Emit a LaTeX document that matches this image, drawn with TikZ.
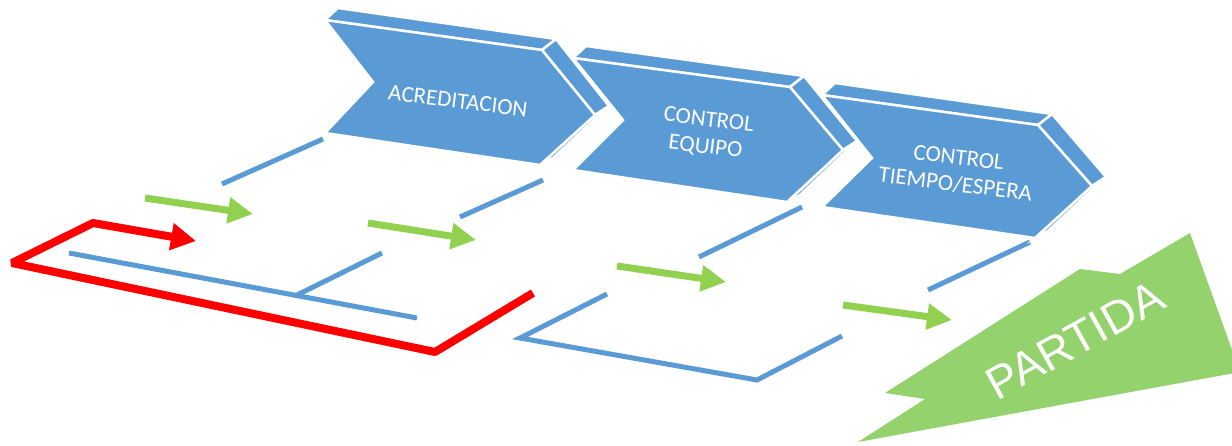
\documentclass[tikz,border=0pt]{standalone}
\usepackage{fontspec}
\setmainfont{Carlito}
\newfontfamily\arialf{Liberation Sans}
\usetikzlibrary{arrows.meta,calc}
\definecolor{cblue}{HTML}{5B9BD5}
\definecolor{cgreen}{HTML}{92D050}
\definecolor{cgreenb}{HTML}{93D26C}
\definecolor{cred}{HTML}{FF0000}
\newcommand\mychev[7]{%
  \coordinate (#1tl) at #2;
  \coordinate (#1tr) at #3;
  \coordinate (#1t) at #4;
  \coordinate (#1br) at #5;
  \coordinate (#1bl) at #6;
  \coordinate (#1n) at #7;
  \filldraw[face] (#1tl) -- (#1tr) -- ($(#1tr)+(14,-11)$) -- ($(#1tl)+(13,-12)$) -- cycle;
  \filldraw[face] (#1tr) -- (#1t) -- ($(#1t)+(14,-9)$) -- ($(#1tr)+(14,-11)$) -- cycle;
  \filldraw[face] (#1t) -- (#1br) -- ($(#1br)+(13,-7)$) -- ($(#1t)+(14,-9)$) -- cycle;
  \filldraw[face] (#1tl) -- (#1tr) -- (#1t) -- (#1br) -- (#1bl) -- (#1n) -- cycle;
}
\begin{document}
\begin{tikzpicture}[x=1pt,y=-1pt,
  face/.style={fill=cblue,draw=white,line width=2.5pt,line join=miter},
  link/.style={draw=cblue,line width=5pt},
  flow/.style={draw=cgreen,line width=7pt,-{Triangle[length=25pt,width=25pt]}},
  loopline/.style={draw=cred,line width=8pt,line join=bevel,-{Triangle[length=25pt,width=26pt]}},
  lbl/.style={text=white,font=\fontsize{23}{27}\selectfont,align=center,rotate=-7,inner sep=0pt}]
\useasboundingbox (0,0) rectangle (1232,445);

% connector end points
\coordinate (a1) at (222,184); \coordinate (a2) at (323,139);
\coordinate (b1) at (460,217); \coordinate (b2) at (543,180);
\coordinate (c1) at (699,257); \coordinate (c2) at (802,207);
\coordinate (d1) at (928,290); \coordinate (d2) at (1030,242);
\coordinate (e1) at (69,253);  \coordinate (e2) at (417,318);
\coordinate (f1) at (297,295); \coordinate (f2) at (382,253);
\coordinate (g1) at (607,294); \coordinate (g2) at (520,338);
\coordinate (g3) at (757,380); \coordinate (g4) at (842,336);

\draw[link] (a1) -- (a2);
\draw[link] (b1) -- (b2);
\draw[link] (c1) -- (c2);
\draw[link] (d1) -- (d2);
\draw[link] (e1) -- (e2);
\draw[link] (f1) -- (f2);
\draw[link,line join=miter] (g1) -- (g2) -- (g3) -- (g4);

% green arrows
\coordinate (h1) at (145,198); \coordinate (h2) at (253,214);
\coordinate (i1) at (368,223); \coordinate (i2) at (476,240);
\coordinate (j1) at (617,266); \coordinate (j2) at (726,282);
\coordinate (k1) at (843,305); \coordinate (k2) at (952,320);
\draw[flow] (h1) -- (h2);
\draw[flow] (i1) -- (i2);
\draw[flow] (j1) -- (j2);
\draw[flow] (k1) -- (k2);

% red loop
\coordinate (r1) at (533,293); \coordinate (r2) at (435,352);
\coordinate (r3) at (12,263);  \coordinate (r4) at (93,223);
\coordinate (r5) at (196,241);
\draw[loopline] (r1) -- (r2) -- (r3) -- (r4) -- (r5);

% chevrons
\mychev{p}{(325,20)}{(542,50)}{(595,115)}{(540,165)}{(325,133)}{(373,82)}
\mychev{q}{(573,58)}{(790,87)}{(843,150)}{(787,202)}{(573,170)}{(623,120)}
\mychev{s}{(822,95)}{(1038,125)}{(1092,186)}{(1035,238)}{(822,207)}{(872,158)}

\node[lbl] (acr) at (458,101) {ACREDITACION};
\node[lbl] (ceq) at (707,134) {CONTROL\\EQUIPO};
\node[lbl] (cte) at (957,171) {CONTROL\\TIEMPO/ESPERA};

% PARTIDA
\begin{scope}
\clip (0,0) rectangle (1232,445);
\fill[cgreenb] (858,442) -- (925,399) -- (885,393) -- (1080,269) -- (1120,274)
  -- (1190,233) -- (1240,372) -- cycle;
\end{scope}
\node[text=white,font=\arialf\fontsize{46}{50}\selectfont,rotate=29,inner sep=0pt]
  (par) at (1075,340) {PARTIDA};
\end{tikzpicture}
\end{document}
